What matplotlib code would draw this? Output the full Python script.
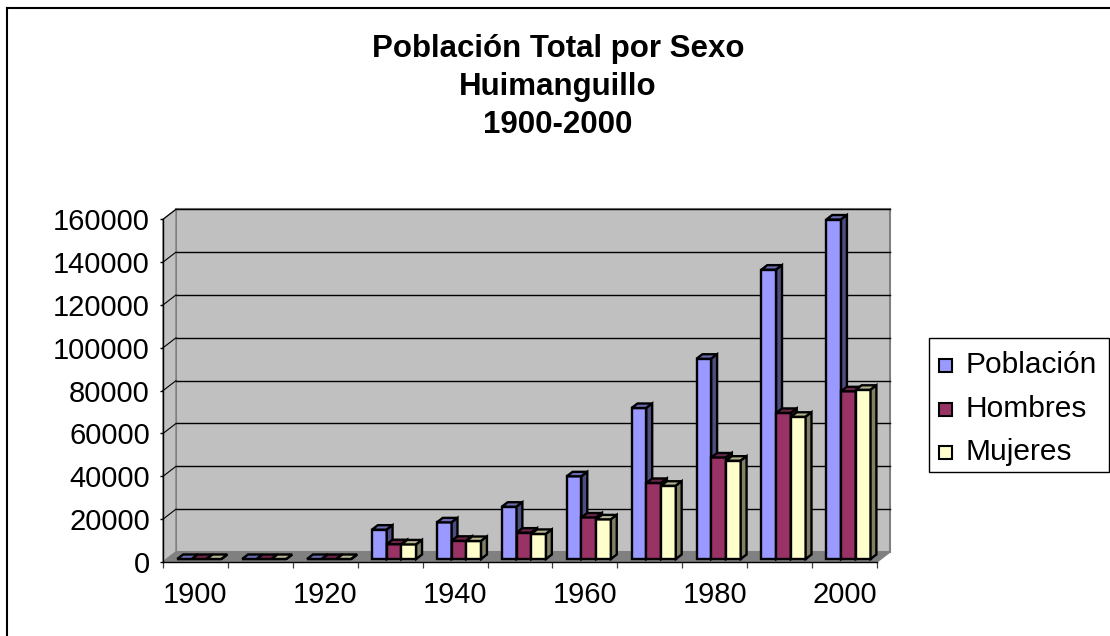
import numpy as np
import matplotlib.pyplot as plt
from matplotlib.patches import Polygon, Rectangle
from matplotlib.lines import Line2D
from matplotlib.colors import to_rgb

plt.rcParams['font.family'] = ['Liberation Sans', 'DejaVu Sans']

# data
years = [1900, 1910, 1920, 1930, 1940, 1950, 1960, 1970, 1980, 1990, 2000]
series = ['Población', 'Hombres', 'Mujeres']
poblacion = [0, 0, 0, 13700, 17100, 24400, 38600, 70500, 93500, 135100, 158500]
hombres = [0, 0, 0, 6900, 8500, 12300, 19400, 35500, 47400, 68200, 78300]
mujeres = [0, 0, 0, 6800, 8400, 11700, 18500, 34200, 45900, 66400, 79000]
colors = ['#9999FF', '#993366', '#FFFFCC']

W, H = 1110, 636
fig = plt.figure(figsize=(W / 100, H / 100), dpi=100)


def fx(x):
    return x / W


def fy(y):
    return 1 - y / H


# front plane of the 3d box in pixels
x_left, x_right = 163, 877
y_bot, y_top = 562, 219.3
ymax = 160000
n = len(years)

ax = fig.add_axes([fx(x_left), fy(y_bot), (x_right - x_left) / W, (y_bot - y_top) / H])
ax.set_xlim(0, n)
ax.set_ylim(0, ymax)
ax.patch.set_visible(False)
ax.spines['top'].set_visible(False)
ax.spines['right'].set_visible(False)

ppx = (x_right - x_left) / n      # pixels per category
ppy = (y_bot - y_top) / ymax      # pixels per value unit
DX = 13 / ppx                     # depth of the floor
DY = 10 / ppy

wall = '#C0C0C0'
floor = '#808080'
# back wall, side wall, floor
ax.add_patch(Polygon([(DX, DY), (n + DX, DY), (n + DX, ymax + DY), (DX, ymax + DY)],
                     closed=True, fc=wall, ec='#808080', lw=1.5, zorder=0.5, clip_on=False))
ax.add_patch(Polygon([(0, 0), (DX, DY), (DX, ymax + DY), (0, ymax)],
                     closed=True, fc=wall, ec='#808080', lw=1.0, zorder=0.5, clip_on=False))
ax.add_patch(Polygon([(0, 0), (n, 0), (n + DX, DY), (DX, DY)],
                     closed=True, fc=floor, ec='#808080', lw=1.0, zorder=0.6, clip_on=False))

yticks = np.arange(0, ymax + 1, 20000)
for yv in yticks[1:]:
    ax.plot([DX, n + DX], [yv + DY, yv + DY], color='black', lw=1.0, zorder=0.7, clip_on=False)
    ax.plot([0, DX], [yv, yv + DY], color='black', lw=0.8, zorder=0.7, clip_on=False)

# 3d-ish bars
bw = 0.227
gap = (1 - 3 * bw) / 2
sx, sy = 0.3 * DX, 0.3 * DY       # bars stand a bit behind the front edge
bdx, bdy = 0.45 * DX, 0.45 * DY   # bar depth


def shade(c, f):
    r, g, b = to_rgb(c)
    return (r * f, g * f, b * f)


x = np.arange(n)
for j, vals in enumerate([poblacion, hombres, mujeres]):
    z = 3 + j
    bars = ax.bar(x + gap + j * bw + sx, vals, width=bw, bottom=sy, align='edge',
                  color=colors[j], edgecolor='black', lw=1.7, zorder=z, clip_on=False)
    for b in bars:
        x0, y0 = b.get_x(), b.get_y()
        x1, y1 = x0 + b.get_width(), y0 + b.get_height()
        ax.add_patch(Polygon([(x0, y1), (x0 + bdx, y1 + bdy), (x1 + bdx, y1 + bdy), (x1, y1)],
                             closed=True, fc=shade(colors[j], 0.7), ec='black', lw=1.7,
                             zorder=z, clip_on=False))
        ax.add_patch(Polygon([(x1, y0), (x1 + bdx, y0 + bdy), (x1 + bdx, y1 + bdy), (x1, y1)],
                             closed=True, fc=shade(colors[j], 0.5), ec='black', lw=1.7,
                             zorder=z, clip_on=False))

# axes and ticks
ax.spines['left'].set_bounds(0, ymax)
ax.spines['bottom'].set_bounds(0, n)
ax.spines['left'].set_linewidth(1.0)
ax.spines['bottom'].set_linewidth(1.0)
ax.set_yticks(yticks)
ax.set_yticklabels([str(int(v)) for v in yticks])
ax.tick_params(axis='y', length=2.5, width=1.0, pad=7, labelsize=21)
ax.set_xticks(np.arange(n + 1))
ax.set_xticklabels([])
ax.tick_params(axis='x', which='major', length=4.5, width=0.9, color='#404040')
ax.set_xticks(np.arange(0, n, 2) + 0.5, minor=True)
ax.set_xticklabels([str(y) for y in years[::2]], minor=True)
ax.tick_params(axis='x', which='minor', length=0, pad=14, labelsize=21)

# title
title_lines = ['Población Total por Sexo', 'Huimanguillo', '1900-2000']
for line, base in zip(title_lines, [57, 95, 133]):
    fig.text(fx(558), fy(base), line, ha='center', va='baseline',
             fontsize=22.5, fontweight='bold')

# legend box
fig.add_artist(Rectangle((fx(929), fy(472)), (1109 - 929) / W, (472 - 338) / H,
                         transform=fig.transFigure, fc='white', ec='black', lw=1.0))
for name, col, yc in zip(series, colors, [365, 409, 452]):
    fig.add_artist(Rectangle((fx(939), fy(yc + 6.5)), 13 / W, 13 / H,
                             transform=fig.transFigure, fc=col, ec='black', lw=1.5))
    fig.text(fx(965), fy(yc), name, ha='left', va='center', fontsize=21.5)

# outer chart frame
fig.add_artist(Line2D([fx(7), fx(W)], [fy(8), fy(8)], color='black', lw=1.5))
fig.add_artist(Line2D([fx(7), fx(7)], [fy(8), 0], color='black', lw=1.5))

fig.savefig('out.png', dpi=100)
